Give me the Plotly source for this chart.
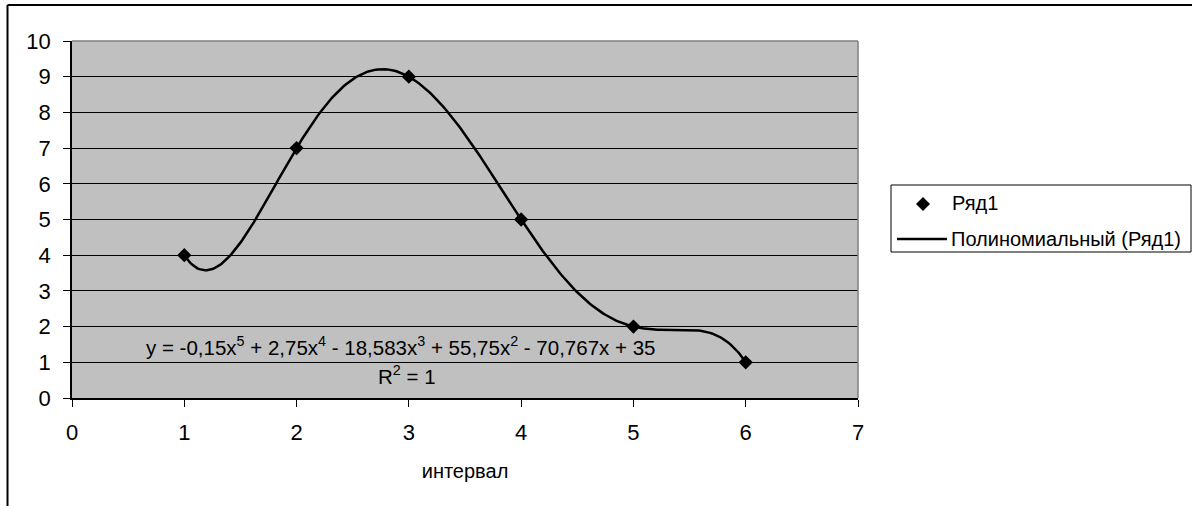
import numpy as np
import plotly.graph_objects as go

# Data
x_vals = [1, 2, 3, 4, 5, 6]
y_vals = [4, 7, 9, 5, 2, 1]
series_name = "Ряд1"
trend_name = "Полиномиальный (Ряд1)"
x_title = "интервал"
x_ticks = [0, 1, 2, 3, 4, 5, 6, 7]
y_ticks = [0, 1, 2, 3, 4, 5, 6, 7, 8, 9, 10]
equation_text = "y = -0,15x<sup>5</sup> + 2,75x<sup>4</sup> - 18,583x<sup>3</sup> + 55,75x<sup>2</sup> - 70,767x + 35"
r2_text = "R<sup>2</sup> = 1"

# polynomial trendline (degree 5) fitted to the data
coef = np.polyfit(x_vals, y_vals, 5)
xt = np.linspace(min(x_vals), max(x_vals), 300)
yt = np.polyval(coef, xt)

W, H = 1192, 506
L, R, T, B = 72, 1192 - 858, 41, 506 - 398
PW, PH = W - L - R, H - T - B


def px(xp):
    return (xp - L) / PW


def py(yp):
    return (H - B - yp) / PH


FONT = "Arial, Liberation Sans, sans-serif"

fig = go.Figure()
fig.add_trace(go.Scatter(
    x=x_vals, y=y_vals, mode="markers", name=series_name,
    marker=dict(symbol="diamond", size=11, color="black"),
    cliponaxis=False, showlegend=False,
))
fig.add_trace(go.Scatter(
    x=xt, y=yt, mode="lines", name=trend_name,
    line=dict(color="black", width=2.5), showlegend=False,
))

# trendline equation
fig.add_annotation(x=px(400), y=py(361), xref="paper", yref="paper", text=equation_text,
                   showarrow=False, font=dict(size=20.5, color="black", family=FONT))
fig.add_annotation(x=px(407), y=py(390), xref="paper", yref="paper", text=r2_text,
                   showarrow=False, font=dict(size=20.5, color="black", family=FONT))

# chart frame lines (top and left)
fig.add_shape(type="line", xref="paper", yref="paper", x0=px(7.5), x1=px(1200), y0=py(5), y1=py(5),
              line=dict(color="black", width=2))
fig.add_shape(type="line", xref="paper", yref="paper", x0=px(7.5), x1=px(7.5), y0=py(5), y1=py(520),
              line=dict(color="black", width=2))
# plot area top/right border (gray)
fig.add_shape(type="line", xref="paper", yref="paper", x0=0, x1=1, y0=1, y1=1,
              line=dict(color="#808080", width=1.5), layer="above")
fig.add_shape(type="line", xref="paper", yref="paper", x0=1, x1=1, y0=0, y1=1,
              line=dict(color="#808080", width=1.5), layer="above")

# legend (box, symbols, labels)
fig.add_shape(type="rect", xref="paper", yref="paper", x0=px(891), x1=px(1191), y0=py(252), y1=py(185),
              line=dict(color="black", width=1), fillcolor="white")
dx, dy = 7 / PW, 7 / PH
cx, cy = px(923), py(204)
fig.add_shape(type="path", xref="paper", yref="paper",
              path=f"M {cx - dx} {cy} L {cx} {cy + dy} L {cx + dx} {cy} L {cx} {cy - dy} Z",
              fillcolor="black", line=dict(color="black", width=0))
fig.add_shape(type="line", xref="paper", yref="paper", x0=px(897), x1=px(947), y0=py(239), y1=py(239),
              line=dict(color="black", width=2.5))
fig.add_annotation(x=px(950), y=py(203), xref="paper", yref="paper", text=series_name,
                   xanchor="left", yanchor="middle", showarrow=False,
                   font=dict(size=20, color="black", family=FONT))
fig.add_annotation(x=px(949), y=py(239), xref="paper", yref="paper", text=trend_name,
                   xanchor="left", yanchor="middle", showarrow=False,
                   font=dict(size=20, color="black", family=FONT))

fig.update_layout(
    width=W, height=H,
    margin=dict(l=L, r=R, t=T, b=B, autoexpand=False),
    paper_bgcolor="white",
    plot_bgcolor="#C0C0C0",
    font=dict(family=FONT, color="black", size=20),
    showlegend=False,
    xaxis=dict(
        range=[0, 7], tickmode="array", tickvals=x_ticks,
        showgrid=False, zeroline=False,
        showline=True, linecolor="black", linewidth=1.5,
        ticks="outside", ticklen=7, tickcolor="black", tickwidth=1,
        tickfont=dict(size=22, family=FONT, color="black"),
        ticklabelstandoff=7,
        title=dict(text=x_title, font=dict(size=20, family=FONT, color="black"), standoff=20),
        fixedrange=True,
    ),
    yaxis=dict(
        range=[0, 10], tickmode="array", tickvals=y_ticks,
        showgrid=True, gridcolor="black", gridwidth=1,
        zeroline=False,
        showline=True, linecolor="black", linewidth=1.5,
        ticks="outside", ticklen=7, tickcolor="black", tickwidth=1,
        tickfont=dict(size=22, family=FONT, color="black"),
        ticklabelstandoff=8,
        fixedrange=True,
    ),
)

fig.write_html("out.html")
